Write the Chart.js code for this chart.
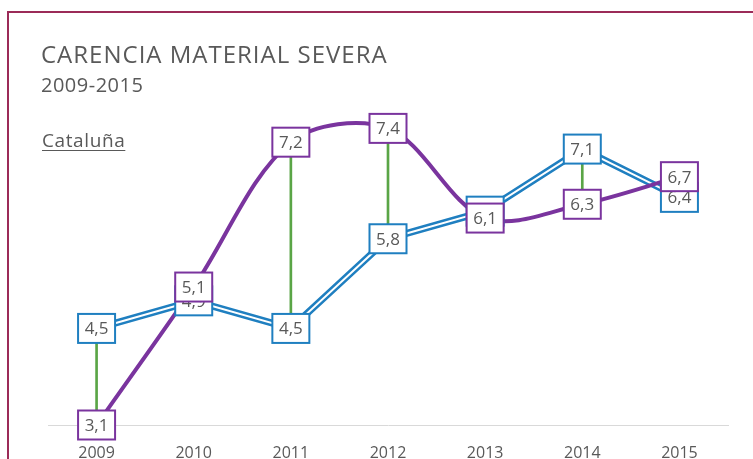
<!DOCTYPE html>
<html>
<head>
<meta charset="utf-8">
<script src="https://cdn.jsdelivr.net/npm/chart.js@4"></script>
<style>
    html, body { margin: 0; padding: 0; background: #fff; overflow: hidden; }
    #wrap { position: relative; width: 753px; height: 459px; overflow: hidden; font-family: "Open Sans", sans-serif; color: #595959; }
    #frame { position: absolute; left: 7px; top: 11px; width: 900px; height: 600px; border-top: 2px solid #9b2b58; border-left: 2px solid #9b2b58; }
    #myChart { position: absolute; left: 0; top: 0; }
    .txt { position: absolute; left: 41px; line-height: 1; white-space: nowrap; }
    #title { top: 42px; font-size: 24px; letter-spacing: 1px; }
    #subtitle { top: 75px; font-size: 20px; letter-spacing: 0.5px; }
    #region { top: 131px; font-size: 19px; letter-spacing: 0.6px; left: 42px; text-decoration: underline; text-underline-offset: 3px; }
</style>
</head>
<body>
<div id="wrap">
    <div id="frame"></div>
    <canvas id="myChart" width="753" height="459"></canvas>
    <div class="txt" id="title">CARENCIA MATERIAL SEVERA</div>
    <div class="txt" id="subtitle">2009-2015</div>
    <div class="txt" id="region">Cataluña</div>
</div>
<script>
const YEARS = ['2009', '2010', '2011', '2012', '2013', '2014', '2015'];
const ESPANA = [4.5, 4.9, 4.5, 5.8, 6.2, 7.1, 6.4];
const CATALUNA = [3.1, 5.1, 7.2, 7.4, 6.1, 6.3, 6.7];

const BLUE = 'rgb(31, 127, 192)';
const PURPLE = 'rgb(122, 52, 158)';
const GREEN = 'rgb(90, 165, 70)';
const GREY = '#595959';

/** formatValue: decimal comma, one digit */
function formatValue(v) {
    return v.toFixed(1).replace('.', ',');
}

// draws the boxed value labels on top of the lines
const boxLabels = {
    id: 'boxLabels',
    afterDatasetsDraw(chart) {
        const ctx = chart.ctx;
        chart.data.datasets.forEach((ds, i) => {
            if (!ds.boxColor) return;
            const meta = chart.getDatasetMeta(i);
            meta.data.forEach((pt, j) => {
                const w = 37, h = 29;
                ctx.save();
                ctx.fillStyle = '#fff';
                ctx.fillRect(pt.x - w / 2, pt.y - h / 2, w, h);
                ctx.lineWidth = 2;
                ctx.strokeStyle = ds.boxColor;
                ctx.strokeRect(pt.x - w / 2, pt.y - h / 2, w, h);
                ctx.fillStyle = GREY;
                ctx.font = '17px "Open Sans"';
                ctx.textAlign = 'center';
                ctx.textBaseline = 'middle';
                ctx.fillText(formatValue(ds.data[j]), pt.x, pt.y + 1);
                ctx.restore();
            });
        });
    }
};

const myChart = new Chart(document.getElementById('myChart'), {
    type: 'line',
    data: {
        labels: YEARS,
        datasets: [
            {
                type: 'bar',
                label: 'diferencia',
                data: ESPANA.map((v, i) => [v, CATALUNA[i]]),
                backgroundColor: GREEN,
                barThickness: 2,
                order: 4
            },
            {
                label: 'España',
                data: ESPANA,
                borderColor: BLUE,
                borderWidth: 7,
                pointRadius: 0,
                tension: 0,
                order: 3
            },
            {
                label: 'España (interior)',
                data: ESPANA,
                borderColor: '#fff',
                borderWidth: 2,
                pointRadius: 0,
                tension: 0,
                order: 2
            },
            {
                label: 'Cataluña',
                data: CATALUNA,
                borderColor: PURPLE,
                borderWidth: 4,
                pointRadius: 0,
                tension: 0.33,
                clip: false,
                order: 1
            }
        ]
    },
    options: {
        responsive: false,
        animation: false,
        events: [],
        layout: {
            padding: { top: 87, left: 48, right: 25, bottom: 0 }
        },
        scales: {
            x: {
                offset: true,
                grid: { display: false, drawTicks: false },
                border: { display: true, color: '#d9d9d9', width: 1 },
                ticks: {
                    color: GREY,
                    padding: 19,
                    font: { family: 'Open Sans', size: 16 }
                },
                afterFit(scale) { scale.height = 34; }
            },
            y: {
                display: false,
                min: 3.1,
                max: 8.0
            }
        },
        plugins: {
            legend: { display: false },
            tooltip: { enabled: false },
            title: { display: false }
        }
    },
    plugins: [boxLabels]
});

// boxes: blue first, purple on top
myChart.data.datasets[1].boxColor = BLUE;
myChart.data.datasets[3].boxColor = PURPLE;
myChart.update();
</script>
</body>
</html>
